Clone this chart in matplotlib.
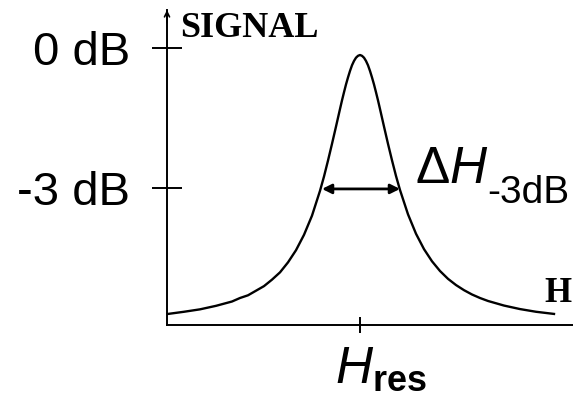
import matplotlib
matplotlib.use("Agg")
import matplotlib.pyplot as plt

# --- DATOS ---
# H en unidades de semi-anchura, relativo a H_res; señal relativa al pico
h_vals = [-4.8, -4.4, -4.0, -3.6, -3.2, -3.0, -2.8, -2.6, -2.4, -2.2, -2.0, -1.8, -1.6, -1.4, -1.2,
          -1.0, -0.9, -0.8, -0.7, -0.6, -0.5, -0.45, -0.4, -0.35, -0.3, -0.25, -0.2,
          -0.15, -0.1, -0.05, 0.0,
          0.05, 0.1, 0.15, 0.2, 0.25, 0.3, 0.35, 0.4, 0.45, 0.5, 0.6, 0.7, 0.8, 0.9, 1.0,
          1.2, 1.4, 1.6, 1.8, 2.0, 2.2, 2.4, 2.6, 2.8, 3.0, 3.2, 3.6, 4.0, 4.4, 4.85]
signal = [0.041, 0.049, 0.058, 0.071, 0.087, 0.100, 0.110, 0.127, 0.144, 0.168, 0.195, 0.232,
          0.277, 0.334, 0.405,
          0.497, 0.550, 0.609, 0.671, 0.735, 0.800, 0.832, 0.862, 0.891, 0.917, 0.941, 0.962,
          0.978, 0.990, 0.997, 1.000,
          0.997, 0.990, 0.978, 0.962, 0.941, 0.917, 0.891, 0.862, 0.832, 0.800, 0.735,
          0.671, 0.610, 0.552, 0.500,
          0.410, 0.338, 0.281, 0.236, 0.200, 0.171, 0.148, 0.129, 0.113, 0.100, 0.089,
          0.072, 0.059, 0.049, 0.041]

db_ticks = [1.026, 0.507]
db_labels = ["0 dB", "-3 dB"]
h_res = [0.0]
fwhm_ends = [-0.95, 1.0]
fwhm_level = 0.504

plt.rcParams['font.family'] = ['Liberation Sans', 'DejaVu Sans']
plt.rcParams['mathtext.fontset'] = 'custom'
plt.rcParams['mathtext.rm'] = 'Liberation Sans'
plt.rcParams['mathtext.it'] = 'Liberation Sans:italic'
plt.rcParams['mathtext.bf'] = 'Liberation Sans:bold'

fig = plt.figure(figsize=(5.73, 3.98), dpi=100)
ax = fig.add_axes([167 / 573, 73 / 398, 406 / 573, 315 / 398])
ax.set_xlim(-4.825, 5.325)
ax.set_ylim(0, 1.1667)

ax.plot(h_vals, signal, color='black', lw=1.7, clip_on=False)

for s in ['top', 'right']:
    ax.spines[s].set_visible(False)
for s in ['left', 'bottom']:
    ax.spines[s].set_linewidth(1.4)

# flecha del eje Y
ax.annotate('', xy=(0, 1.0), xycoords='axes fraction', xytext=(0, 0.96),
            arrowprops=dict(arrowstyle='->', lw=1.2, color='black', mutation_scale=9,
                            shrinkA=0, shrinkB=0))

ax.set_yticks(db_ticks)
ax.set_yticklabels(db_labels)
ax.tick_params(axis='y', direction='inout', length=21.6, width=1.4, pad=16, labelsize=34)
ax.set_xticks(h_res)
ax.set_xticklabels([''])
ax.tick_params(axis='x', direction='inout', length=11, width=1.4)

# flecha de anchura a -3 dB
ax.annotate('', xy=(fwhm_ends[1], fwhm_level), xytext=(fwhm_ends[0], fwhm_level),
            arrowprops=dict(arrowstyle='<|-|>', lw=2, color='black', mutation_scale=14,
                            shrinkA=0, shrinkB=0))

ax.text(-4.5, 1.067, 'SIGNAL', family='Liberation Serif', weight='bold', fontsize=26,
        va='baseline', ha='left', clip_on=False)
ax.text(4.62, 0.085, 'H', family='Liberation Serif', weight='bold', fontsize=25,
        va='baseline', ha='left', clip_on=False)
ax.text(1.375, 0.526, r'$\Delta H$', fontsize=37,
        va='baseline', ha='left', clip_on=False)
ax.text(3.175, 0.452, '-3dB', fontsize=28,
        va='baseline', ha='left', clip_on=False)
ax.text(-0.625, -0.215, r'$H_{\mathbf{res}}$', fontsize=37,
        va='baseline', ha='left', clip_on=False)

fig.savefig('out.png', dpi=100)
